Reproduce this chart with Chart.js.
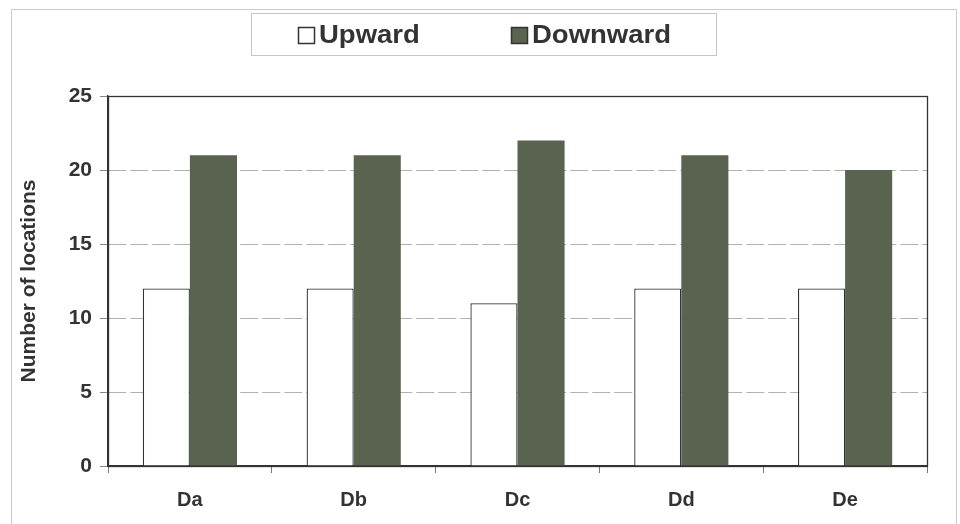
<!DOCTYPE html>
<html>
<head>
<meta charset="utf-8">
<style>
html,body{margin:0;padding:0;background:#fff;}
#wrap{position:relative;width:960px;height:524px;}
</style>
<script src="https://cdn.jsdelivr.net/npm/chart.js@4/dist/chart.umd.min.js"></script>
</head>
<body>
<div id="wrap"><canvas id="c" width="960" height="524"></canvas></div>
<script>
const categories = ["Da", "Db", "Dc", "Dd", "De"];
const upward = [12, 12, 11, 12, 12];
const downward = [21, 21, 22, 21, 20];
const yTicks = [0, 5, 10, 15, 20, 25];
const seriesNames = ["Upward", "Downward"];

const INK = '#333333';
const DARK = '#59634f';
const FONT = '"Liberation Sans", Arial, sans-serif';

const framePlugin = {
  id: 'frame',
  beforeDraw(chart) {
    const ctx = chart.ctx;
    ctx.save();
    ctx.strokeStyle = '#c9cdc5';
    ctx.lineWidth = 1;
    ctx.strokeRect(11.5, 9.5, 945, 530);
    ctx.restore();
  },
  afterDatasetsDraw(chart) {
    const a = chart.chartArea, ctx = chart.ctx;
    ctx.save();
    ctx.strokeStyle = INK;
    ctx.lineWidth = 1.3;
    ctx.strokeRect(Math.round(a.left) + 0.5, Math.round(a.top) + 0.5, Math.round(a.right - a.left), Math.round(a.bottom - a.top));
    ctx.restore();
  },
  afterDraw(chart) {
    const ctx = chart.ctx;
    ctx.save();
    ctx.strokeStyle = '#c4c8c0';
    ctx.lineWidth = 1;
    ctx.strokeRect(251.5, 13.5, 465, 42);
    ctx.font = 'bold 25px ' + FONT;
    ctx.textBaseline = 'middle';
    const ds = chart.data.datasets;
    const items = [{x: 298, ds: ds[0]}, {x: 511, ds: ds[1]}];
    items.forEach(it => {
      ctx.fillStyle = it.ds.backgroundColor;
      ctx.fillRect(it.x, 27, 17, 17);
      ctx.strokeStyle = INK;
      ctx.lineWidth = 1.5;
      ctx.strokeRect(it.x + 0.5, 27.5, 16, 16);
      ctx.fillStyle = INK;
      ctx.save();
      ctx.translate(it.x + 21, 36);
      ctx.scale(1.1, 1);
      ctx.fillText(it.ds.label, 0, 0);
      ctx.restore();
    });
    ctx.restore();
  }
};

new Chart(document.getElementById('c'), {
  type: 'bar',
  data: {
    labels: categories,
    datasets: [
      { label: seriesNames[0], data: upward, backgroundColor: '#ffffff', borderColor: INK, borderWidth: 1.3, categoryPercentage: 0.575, barPercentage: 1.0 },
      { label: seriesNames[1], data: downward, backgroundColor: DARK, borderColor: DARK, borderWidth: 0, categoryPercentage: 0.575, barPercentage: 1.0 }
    ]
  },
  options: {
    responsive: false,
    animation: false,
    layout: { padding: { left: 14, right: 33, top: 96, bottom: 12 } },
    plugins: { legend: { display: false }, tooltip: { enabled: false } },
    scales: {
      x: {
        grid: { offset: true, drawOnChartArea: false, tickLength: 7, color: INK, tickColor: '#777' },
        border: { display: true, color: INK, width: 1.3 },
        ticks: { color: INK, padding: 15, font: { family: FONT, size: 20, weight: 'bold' } },
        afterFit(s) { s.height = 46; }
      },
      y: {
        min: 0, max: 25,
        afterBuildTicks(s) { s.ticks = yTicks.map(v => ({ value: v })); },
        grid: {
          color: ctx => (ctx.tick && (ctx.tick.value === 0 || ctx.tick.value === 25)) ? 'rgba(0,0,0,0)' : '#b0b2ac',
          tickColor: '#888',
          tickLength: 8,
          lineWidth: 1
        },
        border: { display: true, color: INK, width: 1.3, dash: [18, 4] },
        ticks: { color: INK, padding: 8, font: { family: FONT, size: 21, weight: 'bold' } },
        title: { display: true, text: 'Number of locations', color: INK, padding: { top: 3, bottom: 6 }, font: { family: FONT, size: 21, weight: 'bold' } },
        afterFit(s) { s.width = 94; }
      }
    }
  },
  plugins: [framePlugin]
});
</script>
</body>
</html>
